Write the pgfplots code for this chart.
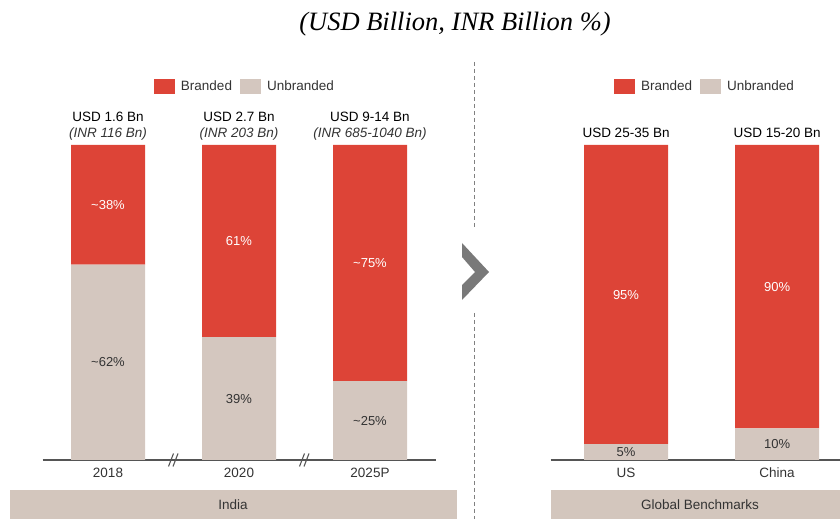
\documentclass[border=0pt]{standalone}
\usepackage{fontspec}
\setmainfont{Liberation Sans}
\newfontfamily\titlefont{Liberation Serif}
\usepackage{pgfplots}
\pgfplotsset{compat=1.18}
\definecolor{bred}{HTML}{DD4437}
\definecolor{bbeige}{HTML}{D4C7BF}
\definecolor{band}{HTML}{D3C6BD}
\definecolor{txt}{HTML}{333333}
\definecolor{axisgray}{HTML}{555555}
\newcommand{\fs}[1]{\fontsize{#1}{#1}\selectfont}
\tikzset{
  lblD/.style={font=\fs{13}, text=txt},
  lblW/.style={font=\fs{13}, text=white},
}
\pgfplotsset{
  common/.style={
    scale only axis, anchor=south west, height=315pt,
    ymin=0, ymax=100, hide y axis, axis x line=bottom,
    x axis line style={-, draw=axisgray, line width=1.2pt},
    major tick length=0pt, ybar stacked, clip=false,
    xticklabel style={text=txt, font=\fs{13.5}, yshift=-4pt, text height=10pt, text depth=0pt},
    reverse legend,
    legend style={draw=none, fill=none, legend columns=2, font=\fs{13.5}, text=txt,
      /tikz/every even column/.append style={column sep=6pt}},
  },
  overlay/.style={scale only axis, anchor=south west, height=315pt,
    ymin=0, ymax=100, hide axis, clip=false},
  limg/.style={legend image code/.code={\fill[#1] (0pt,-7.5pt) rectangle (21pt,7.5pt); \path (25pt,0pt);}},
}
\begin{document}
\begin{tikzpicture}[x=1pt,y=1pt]
\useasboundingbox (0,0) rectangle (840,519);
\node[font=\titlefont\itshape\fs{26.5}, text=black] at (455,495) {(USD Billion, INR Billion \%)};
\draw[gray, dash pattern=on 4pt off 3pt, line width=0.8pt] (474,457) -- (474,291);
\draw[gray, dash pattern=on 4pt off 3pt, line width=0.8pt] (474,206) -- (474,0);
\fill[gray!95!black] (462,276) -- (489,247) -- (462,219) -- (462,234) -- (475,247) -- (462,262) -- cycle;
\fill[band] (10,0) rectangle (457,29);
\node[font=\fs{13.5}, text=txt] at (233,14.5) {India};
\fill[band] (551,0) rectangle (840,29);
\node[font=\fs{13.5}, text=txt] at (700,14.5) {Global Benchmarks};

\begin{axis}[common, at={(42.5pt,59pt)}, width=393pt,
  xmin=-0.5, xmax=2.5, xtick={0,1,2}, xticklabels={2018,2020,2025P},
  bar width=74pt,
  legend style={at={(rel axis cs:0.515,1.187)}, anchor=center}]
\addplot[fill=bbeige, draw=none, limg=bbeige] coordinates {(0,62) (1,39) (2,25)};
\addlegendentry{Unbranded}
\addplot[fill=bred, draw=none, limg=bred] coordinates {(0,38) (1,61) (2,75)};
\addlegendentry{Branded}
\node[font=\fs{13.5}, text=black] at (axis cs:0,108.9) {USD 1.6 Bn};
\node[font=\itshape\fs{13.5}, text=txt] at (axis cs:0,103.5) {(INR 116 Bn)};
\node[font=\fs{13.5}, text=black] at (axis cs:1,108.9) {USD 2.7 Bn};
\node[font=\itshape\fs{13.5}, text=txt] at (axis cs:1,103.5) {(INR 203 Bn)};
\node[font=\fs{13.5}, text=black] at (axis cs:2,108.9) {USD 9-14 Bn};
\node[font=\itshape\fs{13.5}, text=txt] at (axis cs:2,103.5) {(INR 685-1040 Bn)};
\draw[axisgray, line width=1.1pt] (axis cs:0.5,0) ++(-5pt,-6.5pt) -- ++(5pt,13pt);
\draw[axisgray, line width=1.1pt] (axis cs:0.5,0) ++(-0.5pt,-6.5pt) -- ++(5pt,13pt);
\draw[axisgray, line width=1.1pt] (axis cs:1.5,0) ++(-5pt,-6.5pt) -- ++(5pt,13pt);
\draw[axisgray, line width=1.1pt] (axis cs:1.5,0) ++(-0.5pt,-6.5pt) -- ++(5pt,13pt);
\end{axis}
\begin{axis}[overlay, at={(42.5pt,59pt)}, width=393pt, xmin=-0.5, xmax=2.5]
\node[lblD] at (axis cs:0,31) {\textasciitilde62\%};
\node[lblW] at (axis cs:0,81) {\textasciitilde38\%};
\node[lblD] at (axis cs:1,19.5) {39\%};
\node[lblW] at (axis cs:1,69.5) {61\%};
\node[lblD] at (axis cs:2,12.5) {\textasciitilde25\%};
\node[lblW] at (axis cs:2,62.5) {\textasciitilde75\%};
\end{axis}

\begin{axis}[common, at={(550.5pt,59pt)}, width=290pt,
  xmin=-0.5, xmax=1.42, xtick={0,1}, xticklabels={US,China},
  bar width=84pt,
  legend style={at={(rel axis cs:0.533,1.187)}, anchor=center}]
\addplot[fill=bbeige, draw=none, limg=bbeige] coordinates {(0,5) (1,10)};
\addlegendentry{Unbranded}
\addplot[fill=bred, draw=none, limg=bred] coordinates {(0,95) (1,90)};
\addlegendentry{Branded}
\node[font=\fs{13.5}, text=black] at (axis cs:0,103.8) {USD 25-35 Bn};
\node[font=\fs{13.5}, text=black] at (axis cs:1,103.8) {USD 15-20 Bn};
\end{axis}
\begin{axis}[overlay, at={(550.5pt,59pt)}, width=290pt, xmin=-0.5, xmax=1.42]
\node[lblD] at (axis cs:0,2.5) {5\%};
\node[lblW] at (axis cs:0,52.5) {95\%};
\node[lblD] at (axis cs:1,5) {10\%};
\node[lblW] at (axis cs:1,55) {90\%};
\end{axis}
\end{tikzpicture}
\end{document}
